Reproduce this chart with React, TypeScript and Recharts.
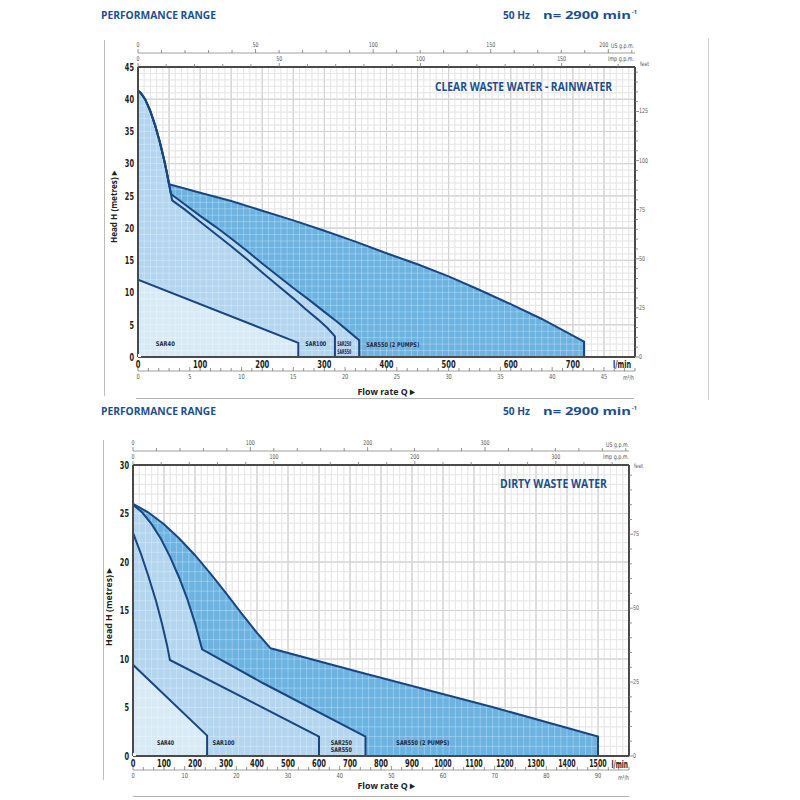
import React from 'react';
import { ComposedChart, Area, Line, XAxis, YAxis, CartesianGrid, ReferenceDot } from 'recharts';

type Pt = { q: number; h: number };

// ---------------- CLEAR WASTE WATER - RAINWATER (Q in l/min, H in m) ----------------
const clearSteep: Pt[] = [
  { q: 0, h: 41.3 }, { q: 4, h: 41.0 }, { q: 8, h: 40.5 }, { q: 12, h: 39.9 }, { q: 20, h: 38.1 },
  { q: 28, h: 35.8 }, { q: 35, h: 33.4 }, { q: 42, h: 30.6 }, { q: 46, h: 28.8 }, { q: 50, h: 26.8 },
];
const clearSar40: Pt[] = [{ q: 0, h: 12.0 }, { q: 258, h: 2.2 }, { q: 258, h: 0 }];
const clearSar100: Pt[] = [
  ...clearSteep, { q: 53, h: 25.3 }, { q: 55, h: 24.3 }, { q: 75, h: 22.9 }, { q: 100, h: 21.0 },
  { q: 125, h: 19.1 }, { q: 150, h: 17.2 }, { q: 175, h: 15.2 }, { q: 200, h: 13.1 }, { q: 225, h: 11.1 },
  { q: 250, h: 9.1 }, { q: 270, h: 7.4 }, { q: 290, h: 5.8 }, { q: 305, h: 4.5 }, { q: 317, h: 3.2 }, { q: 317, h: 0 },
];
const clearSar250: Pt[] = [
  ...clearSteep, { q: 53, h: 25.3 }, { q: 75, h: 23.7 }, { q: 100, h: 21.9 }, { q: 125, h: 20.2 },
  { q: 150, h: 18.4 }, { q: 175, h: 16.5 }, { q: 200, h: 14.5 }, { q: 225, h: 12.6 }, { q: 250, h: 10.7 },
  { q: 275, h: 8.9 }, { q: 300, h: 7.0 }, { q: 320, h: 5.5 }, { q: 340, h: 3.9 }, { q: 356, h: 2.6 }, { q: 356, h: 0 },
];
const clearSar550x2: Pt[] = [
  ...clearSteep, { q: 100, h: 25.5 }, { q: 150, h: 24.2 }, { q: 200, h: 22.7 }, { q: 250, h: 21.2 },
  { q: 300, h: 19.6 }, { q: 350, h: 17.9 }, { q: 400, h: 16.1 }, { q: 450, h: 14.4 }, { q: 500, h: 12.5 },
  { q: 550, h: 10.4 }, { q: 600, h: 8.2 }, { q: 650, h: 5.9 }, { q: 700, h: 3.3 }, { q: 718, h: 2.4 }, { q: 718, h: 0 },
];

// ---------------- DIRTY WASTE WATER ----------------
const dirtySar40: Pt[] = [{ q: 0, h: 9.4 }, { q: 239, h: 2.1 }, { q: 239, h: 0 }];
const dirtySar100: Pt[] = [
  { q: 0, h: 23.0 }, { q: 25, h: 20.9 }, { q: 50, h: 18.5 }, { q: 75, h: 15.9 }, { q: 93, h: 13.7 },
  { q: 110, h: 11.4 }, { q: 119, h: 9.9 }, { q: 600, h: 2.0 }, { q: 600, h: 0 },
];
const dirtySar250: Pt[] = [
  { q: 0, h: 25.9 }, { q: 30, h: 25.1 }, { q: 60, h: 23.9 }, { q: 90, h: 22.4 }, { q: 120, h: 20.5 },
  { q: 150, h: 18.3 }, { q: 175, h: 16.2 }, { q: 200, h: 13.7 }, { q: 223, h: 11.0 }, { q: 420, h: 7.5 },
  { q: 750, h: 2.0 }, { q: 750, h: 0 },
];
const dirtySar550x2: Pt[] = [
  { q: 0, h: 26.0 }, { q: 50, h: 25.1 }, { q: 100, h: 23.9 }, { q: 150, h: 22.4 }, { q: 200, h: 20.7 },
  { q: 250, h: 18.8 }, { q: 300, h: 16.8 }, { q: 350, h: 14.7 }, { q: 400, h: 12.7 }, { q: 444, h: 11.1 },
  { q: 735, h: 8.6 }, { q: 1165, h: 5.0 }, { q: 1500, h: 2.0 }, { q: 1500, h: 0 },
];

// ---------------- tick labels ----------------
const clearFlowTicks = [0, 100, 200, 300, 400, 500, 600, 700];
const clearHeadTicks = [0, 5, 10, 15, 20, 25, 30, 35, 40, 45];
const clearUsLabels = [0, 50, 100, 150, 200];
const clearImpLabels = [0, 50, 100, 150];
const clearM3Labels = [0, 5, 10, 15, 20, 25, 30, 35, 40, 45];
const clearFeetLabels = [0, 25, 50, 75, 100, 125];

const dirtyFlowTicks = [0, 100, 200, 300, 400, 500, 600, 700, 800, 900, 1000, 1100, 1200, 1300, 1400, 1500];
const dirtyHeadTicks = [0, 5, 10, 15, 20, 25, 30];
const dirtyUsLabels = [0, 100, 200, 300];
const dirtyImpLabels = [0, 100, 200, 300];
const dirtyM3Labels = [0, 10, 20, 30, 40, 50, 60, 70, 80, 90];
const dirtyFeetLabels = [0, 25, 50, 75];

const clearRegionLabels = [
  { q: 44, h: 2.0, text: 'SAR40', w: 19 },
  { q: 286, h: 2.0, text: 'SAR100', w: 21 },
  { q: 332, h: 2.0, text: 'SAR250', w: 14 },
  { q: 332, h: 0.75, text: 'SAR550', w: 14 },
  { q: 410, h: 1.9, text: 'SAR550 (2 PUMPS)', w: 53 },
];
const dirtyRegionLabels = [
  { q: 105, h: 1.4, text: 'SAR40', w: 17 },
  { q: 292, h: 1.4, text: 'SAR100', w: 22 },
  { q: 672, h: 1.4, text: 'SAR250', w: 21 },
  { q: 672, h: 0.6, text: 'SAR550', w: 21 },
  { q: 935, h: 1.4, text: 'SAR550 (2 PUMPS)', w: 53 },
];

// ---------------- helpers ----------------
const seq = (a: number, b: number, s: number) => {
  const r: number[] = [];
  for (let v = a; v <= b + 1e-9; v += s) r.push(Math.round(v * 1000) / 1000);
  return r;
};

const NAVY = '#1a4680';
const TITLE = '#1d4f8f';
const FILL_LIGHTEST = '#d9eaf7';
const FILL_LIGHT = '#b3d5ef';
const FILL_MID = '#6cb3e2';
const NARROW = "'Liberation Sans Narrow', 'DejaVu Sans Condensed', Roboto, sans-serif";
const SANS = "'Open Sans', 'Liberation Sans', sans-serif";
const ANCHOR: Pt[] = [{ q: 0, h: 0 }];

interface PanelCfg {
  xMax: number; yMax: number;
  flowTicks: number[]; headTicks: number[];
  gridX: number[]; gridXMajor: number[]; gridY: number[]; gridYMajor: number[];
  usMax: number; usTicks: number[]; usLabels: number[];
  impMax: number; impTicks: number[]; impLabels: number[];
  m3Max: number; m3Ticks: number[]; m3Labels: number[];
  ftMax: number; ftTicks: number[]; ftLabels: number[];
  areas: { data: Pt[]; fill: string }[];
  lines: Pt[][];
  regionLabels: { q: number; h: number; text: string; w: number }[];
  margin: { top: number; right: number; bottom: number; left: number };
  lastUsEnd?: number;
}

const topTick = (labels: number[], endAnchored?: number) => (p: any) => {
  const { x, y, payload } = p;
  const v = payload.value;
  const isL = labels.includes(v);
  const s = String(v);
  const isEnd = endAnchored !== undefined && v === endAnchored;
  return (
    <g>
      <line x1={x} x2={x} y1={y} y2={y - (isL ? 4 : 3)} stroke="#777" strokeWidth={0.8} />
      {isL && (
        <text x={x} y={y - 6} textAnchor={isEnd ? 'end' : 'middle'} fontSize={6.5} fill="#555"
          fontFamily={NARROW} textLength={s.length * 3.0} lengthAdjust="spacingAndGlyphs">{s}</text>
      )}
    </g>
  );
};

const m3Tick = (labels: number[]) => (p: any) => {
  const { x, y, payload } = p;
  const v = payload.value;
  const isL = labels.includes(v);
  const s = String(v);
  return (
    <g>
      <line x1={x} x2={x} y1={y} y2={y - (isL ? 4 : 3)} stroke="#777" strokeWidth={0.8} />
      {isL && (
        <text x={x} y={y + 8} textAnchor="middle" fontSize={7} fill="#555" fontFamily={NARROW}
          textLength={s.length * 3.2} lengthAdjust="spacingAndGlyphs">{s}</text>
      )}
    </g>
  );
};

const feetTick = (labels: number[]) => (p: any) => {
  const { x, y, payload } = p;
  const v = payload.value;
  const isL = labels.includes(v);
  const s = String(v);
  return (
    <g>
      <line x1={x} x2={x + (isL ? 4 : 3)} y1={y} y2={y} stroke="#777" strokeWidth={0.8} />
      {isL && (
        <text x={x + 4} y={y + 2} textAnchor="start" fontSize={6.5} fill="#555" fontFamily={NARROW}
          textLength={s.length * 3.0} lengthAdjust="spacingAndGlyphs">{s}</text>
      )}
    </g>
  );
};

const headTick = (p: any) => {
  const { x, y, payload } = p;
  const s = String(payload.value);
  return (
    <text x={x - 4} y={y + 3.8} textAnchor="end" fontSize={10} fontWeight={700} fill="#222" fontFamily={NARROW}
      textLength={s.length * 4.6} lengthAdjust="spacingAndGlyphs">{s}</text>
  );
};

const flowTick = (p: any) => {
  const { x, y, payload } = p;
  const s = String(payload.value);
  const len = s.length >= 4 ? 17.5 : s.length * 4.7;
  return (
    <text x={x} y={y + 10.5} textAnchor="middle" fontSize={10} fontWeight={700} fill="#222" fontFamily={NARROW}
      textLength={len} lengthAdjust="spacingAndGlyphs">{s}</text>
  );
};

function Panel({ cfg }: { cfg: PanelCfg }) {
  const mainLine = { stroke: '#4a4a4a', strokeWidth: 2 };
  const thinLine = { stroke: '#888', strokeWidth: 0.8 };
  const extraX = ['m3', 'imp', 'us', 'gx', 'gxM'];
  return (
    <ComposedChart width={800} height={400} margin={cfg.margin}>
      {/* axes */}
      <XAxis xAxisId={0} type="number" dataKey="q" domain={[0, cfg.xMax]} ticks={cfg.flowTicks} interval={0}
        allowDataOverflow orientation="bottom" height={14} tickLine={false} tickSize={0} tickMargin={0}
        axisLine={mainLine} tick={flowTick} />
      <XAxis xAxisId="m3" type="number" dataKey="q" domain={[0, cfg.m3Max]} ticks={cfg.m3Ticks} interval={0}
        allowDataOverflow orientation="bottom" height={20} tickLine={false} tickSize={0} tickMargin={0}
        axisLine={thinLine} tick={m3Tick(cfg.m3Labels)} />
      <XAxis xAxisId="imp" type="number" dataKey="q" domain={[0, cfg.impMax]} ticks={cfg.impTicks} interval={0}
        allowDataOverflow orientation="top" height={14} tickLine={false} tickSize={0} tickMargin={0}
        axisLine={mainLine} tick={topTick(cfg.impLabels)} />
      <XAxis xAxisId="us" type="number" dataKey="q" domain={[0, cfg.usMax]} ticks={cfg.usTicks} interval={0}
        allowDataOverflow orientation="top" height={15} tickLine={false} tickSize={0} tickMargin={0}
        axisLine={thinLine} tick={topTick(cfg.usLabels, cfg.lastUsEnd)} />
      <YAxis yAxisId={0} type="number" dataKey="h" domain={[0, cfg.yMax]} ticks={cfg.headTicks} interval={0}
        allowDataOverflow orientation="left" width={30} tickLine={false} tickSize={0} tickMargin={0}
        axisLine={mainLine} tick={headTick} />
      <YAxis yAxisId="ft" type="number" domain={[0, cfg.ftMax]} ticks={cfg.ftTicks} interval={0}
        allowDataOverflow orientation="right" width={40} tickLine={false} tickSize={0} tickMargin={0}
        axisLine={mainLine} tick={feetTick(cfg.ftLabels)} />
      {/* hidden grid axes (take no room) */}
      <XAxis xAxisId="gx" type="number" dataKey="q" domain={[0, cfg.xMax]} ticks={cfg.gridX} interval={0}
        allowDataOverflow hide height={0} orientation="top" />
      <XAxis xAxisId="gxM" type="number" dataKey="q" domain={[0, cfg.xMax]} ticks={cfg.gridXMajor} interval={0}
        allowDataOverflow hide height={0} orientation="top" />
      <YAxis yAxisId="gy" type="number" domain={[0, cfg.yMax]} ticks={cfg.gridY} interval={0}
        allowDataOverflow hide width={0} />
      <YAxis yAxisId="gyM" type="number" domain={[0, cfg.yMax]} ticks={cfg.gridYMajor} interval={0}
        allowDataOverflow hide width={0} />

      <CartesianGrid xAxisId="gx" yAxisId="gy" stroke="#d6d6d6" strokeWidth={0.8} />
      <CartesianGrid xAxisId="gxM" yAxisId="gyM" stroke="#c2c2c2" strokeWidth={1} />

      {/* invisible anchors so that every extra x axis has a series */}
      {extraX.map((id) => (
        <Line key={'anchor-' + id} xAxisId={id} yAxisId={0} data={ANCHOR} dataKey="h" stroke="none"
          dot={false} activeDot={false} isAnimationActive={false} legendType="none" />
      ))}

      {cfg.areas.map((a, i) => (
        <Area key={'a' + i} data={a.data} dataKey="h" type="linear" fill={a.fill} fillOpacity={1}
          stroke="none" isAnimationActive={false} activeDot={false} dot={false} />
      ))}

      <CartesianGrid xAxisId="gx" yAxisId="gy" stroke="#ffffff" strokeOpacity={0.35} strokeWidth={0.8}
        {...({ zIndex: 150 } as any)} />

      {cfg.lines.map((d, i) => (
        <Line key={'l' + i} data={d} dataKey="h" type="linear" stroke={NAVY} strokeWidth={2}
          dot={false} activeDot={false} isAnimationActive={false} />
      ))}

      {cfg.regionLabels.map((l, i) => (
        <ReferenceDot key={'r' + i} x={l.q} y={l.h} r={1} ifOverflow="visible"
          shape={(p: any) => (
            <text x={p.cx} y={p.cy + 2.3} textAnchor="middle" fontSize={6.5} fontWeight={700} fill="#1e2a44"
              fontFamily={NARROW} textLength={l.w} lengthAdjust="spacingAndGlyphs">{l.text}</text>
          )} />
      ))}
    </ComposedChart>
  );
}

const clearCfg: PanelCfg = {
  xMax: 800, yMax: 45,
  flowTicks: clearFlowTicks, headTicks: clearHeadTicks,
  gridX: seq(0, 800, 10), gridXMajor: seq(0, 800, 50), gridY: seq(0, 45, 1), gridYMajor: seq(0, 45, 5),
  usMax: 800 / 3.785, usTicks: seq(0, 210, 10), usLabels: clearUsLabels,
  impMax: 800 / 4.546, impTicks: seq(0, 170, 10), impLabels: clearImpLabels,
  m3Max: 48, m3Ticks: seq(0, 48, 1), m3Labels: clearM3Labels,
  ftMax: 45 / 0.3048, ftTicks: seq(0, 145, 5), ftLabels: clearFeetLabels,
  areas: [
    { data: clearSar550x2, fill: FILL_MID },
    { data: clearSar250, fill: FILL_LIGHT },
    { data: clearSar100, fill: FILL_LIGHT },
    { data: clearSar40, fill: FILL_LIGHTEST },
  ],
  lines: [clearSar550x2, clearSar250, clearSar100, clearSar40],
  regionLabels: clearRegionLabels,
  margin: { top: 38, right: 125, bottom: 9, left: 108 },
  lastUsEnd: 200,
};

const dirtyCfg: PanelCfg = {
  xMax: 1600, yMax: 30,
  flowTicks: dirtyFlowTicks, headTicks: dirtyHeadTicks,
  gridX: seq(0, 1600, 20), gridXMajor: seq(0, 1600, 100), gridY: seq(0, 30, 1), gridYMajor: seq(0, 30, 5),
  usMax: 1600 / 3.785, usTicks: seq(0, 420, 20), usLabels: dirtyUsLabels,
  impMax: 1600 / 4.546, impTicks: seq(0, 340, 20), impLabels: dirtyImpLabels,
  m3Max: 96, m3Ticks: seq(0, 96, 2), m3Labels: dirtyM3Labels,
  ftMax: 30 / 0.3048, ftTicks: seq(0, 95, 5), ftLabels: dirtyFeetLabels,
  areas: [
    { data: dirtySar550x2, fill: FILL_MID },
    { data: dirtySar250, fill: FILL_LIGHT },
    { data: dirtySar100, fill: FILL_LIGHT },
    { data: dirtySar40, fill: FILL_LIGHTEST },
  ],
  lines: [dirtySar550x2, dirtySar250, dirtySar100, dirtySar40],
  regionLabels: dirtyRegionLabels,
  margin: { top: 36, right: 131, bottom: 10, left: 103 },
};

function T(props: { x: number; y: number; len: number; size: number; text: string; bold?: boolean; fill?: string; anchor?: string; family?: string; transform?: string }) {
  const { x, y, len, size, text, bold, fill, anchor, family, transform } = props;
  return (
    <text x={x} y={y} fontSize={size} fontWeight={bold ? 700 : 400} fill={fill || '#222'} textAnchor={anchor || 'start'}
      fontFamily={family || SANS} textLength={len} lengthAdjust="spacingAndGlyphs" transform={transform}>{text}</text>
  );
}

function Header({ yc }: { yc: number }) {
  const b = yc + 4;
  return (
    <g>
      <T x={101} y={b} len={115} size={11} text="PERFORMANCE RANGE" bold fill={TITLE} />
      <T x={503} y={b} len={27} size={11} text="50 Hz" bold fill={TITLE} />
      <T x={543} y={b} len={88} size={11} text="n= 2900 min" bold fill={TITLE} />
      <T x={632} y={b - 5} len={5} size={6} text="-1" bold fill={TITLE} />
    </g>
  );
}

export default function App() {
  return (
    <div style={{ position: 'absolute', left: 0, top: 0, width: 800, height: 800, background: '#fff', overflow: 'hidden' }}>
      <div style={{ position: 'absolute', left: 0, top: 0 }}>
        <Panel cfg={clearCfg} />
      </div>
      <div style={{ position: 'absolute', left: 0, top: 400 }}>
        <Panel cfg={dirtyCfg} />
      </div>
      <svg width={800} height={800} style={{ position: 'absolute', left: 0, top: 0, pointerEvents: 'none' }}>
        {/* decorative frame lines */}
        <line x1={104.5} x2={104.5} y1={40} y2={396} stroke="#bdbdbd" strokeWidth={1} />
        <line x1={708.5} x2={708.5} y1={38} y2={400} stroke="#cfcfcf" strokeWidth={1} />
        <line x1={136} x2={634} y1={398.5} y2={398.5} stroke="#b0b0b0" strokeWidth={1} />
        <line x1={103.5} x2={103.5} y1={440} y2={780} stroke="#bdbdbd" strokeWidth={1} />
        <line x1={133} x2={629} y1={796.5} y2={796.5} stroke="#b0b0b0" strokeWidth={1} />

        <Header yc={15} />
        <Header yc={411} />

        {/* top panel */}
        <T x={435} y={90.8} len={177} size={12} text="CLEAR WASTE WATER - RAINWATER" bold fill={TITLE} />
        <T x={611} y={48.3} len={23} size={6.5} text="US g.p.m." family={NARROW} fill="#555" />
        <T x={608} y={61} len={26} size={6.5} text="Imp g.p.m." family={NARROW} fill="#555" />
        <T x={640} y={66} len={9} size={6} text="feet" family={NARROW} fill="#555" />
        <T x={613} y={368} len={18} size={10} text="l/min" bold family={NARROW} />
        <T x={623} y={380} len={11} size={6.5} text="m³/h" family={NARROW} fill="#555" />
        <T x={386} y={394.5} len={57} size={9.5} text="Flow rate Q ▸" bold anchor="middle" />
        <T x={0} y={0} len={72} size={9.5} text="Head H  (metres)  ▸" bold anchor="middle" transform="translate(117,207) rotate(-90)" />

        {/* bottom panel */}
        <T x={500} y={487.8} len={107} size={12} text="DIRTY WASTE WATER" bold fill={TITLE} />
        <T x={606} y={447} len={23} size={6.5} text="US g.p.m." family={NARROW} fill="#555" />
        <T x={603} y={459} len={26} size={6.5} text="Imp g.p.m." family={NARROW} fill="#555" />
        <T x={634} y={468} len={9} size={6} text="feet" family={NARROW} fill="#555" />
        <T x={611.5} y={768} len={16.5} size={10} text="l/min" bold family={NARROW} />
        <T x={618} y={780} len={11} size={6.5} text="m³/h" family={NARROW} fill="#555" />
        <T x={386} y={788.5} len={57} size={9.5} text="Flow rate Q ▸" bold anchor="middle" />
        <T x={0} y={0} len={78} size={9.5} text="Head H  (metres)  ▸" bold anchor="middle" transform="translate(112,607) rotate(-90)" />
      </svg>
    </div>
  );
}
